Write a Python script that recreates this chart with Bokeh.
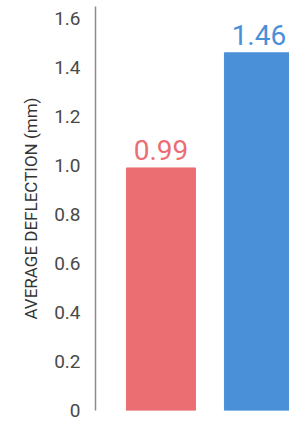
from bokeh.plotting import figure
from bokeh.models import ColumnDataSource, FixedTicker, Range1d
from bokeh.core.properties import value
from bokeh.embed import file_html
from bokeh.resources import INLINE

categories = ["A", "B"]
values = [0.99, 1.46]
labels = ["0.99", "1.46"]
colors = ["#ea6e72", "#4a90d9"]
ticks = [0, 0.2, 0.4, 0.6, 0.8, 1.0, 1.2, 1.4, 1.6]
tick_labels = ["0", "0.2", "0.4", "0.6", "0.8", "1.0", "1.2", "1.4", "1.6"]

FONT = "Roboto"

src = ColumnDataSource(dict(x=list(range(len(categories))), top=values,
                            label=labels, color=colors))

p = figure(width=289, height=423, output_backend="svg", toolbar_location=None,
           x_range=Range1d(-0.668, 1.312), y_range=Range1d(0, 1.649),
           min_border_left=95, min_border_right=0, min_border_top=6,
           min_border_bottom=13)
p.vbar(x="x", top="top", bottom=0, width=0.704, color="color", source=src)
p.text(x="x", y="top", text="label", text_color="color", source=src,
       text_align="center", text_baseline="alphabetic", y_offset=-18,
       text_font=value(FONT), text_font_size="28px")

p.xaxis.visible = False
p.grid.visible = False
p.outline_line_color = None
ya = p.yaxis[0]
ya.ticker = FixedTicker(ticks=ticks)
ya.major_label_overrides = {t: l for t, l in zip(ticks, tick_labels)}
ya.major_tick_line_color = None
ya.minor_tick_line_color = None
ya.axis_line_color = "#8a8a8a"
ya.axis_line_width = 1.5
ya.major_label_standoff = 9
ya.major_label_text_font = FONT
ya.major_label_text_font_size = "19px"
ya.major_label_text_color = "#4a4a4a"
ya.axis_label = "AVERAGE DEFLECTION (mm)"
ya.axis_label_text_font = FONT
ya.axis_label_text_font_size = "17px"
ya.axis_label_text_font_style = "normal"
ya.axis_label_text_color = "#333333"
ya.axis_label_standoff = 10

open("out.html", "w").write(file_html(p, INLINE))
